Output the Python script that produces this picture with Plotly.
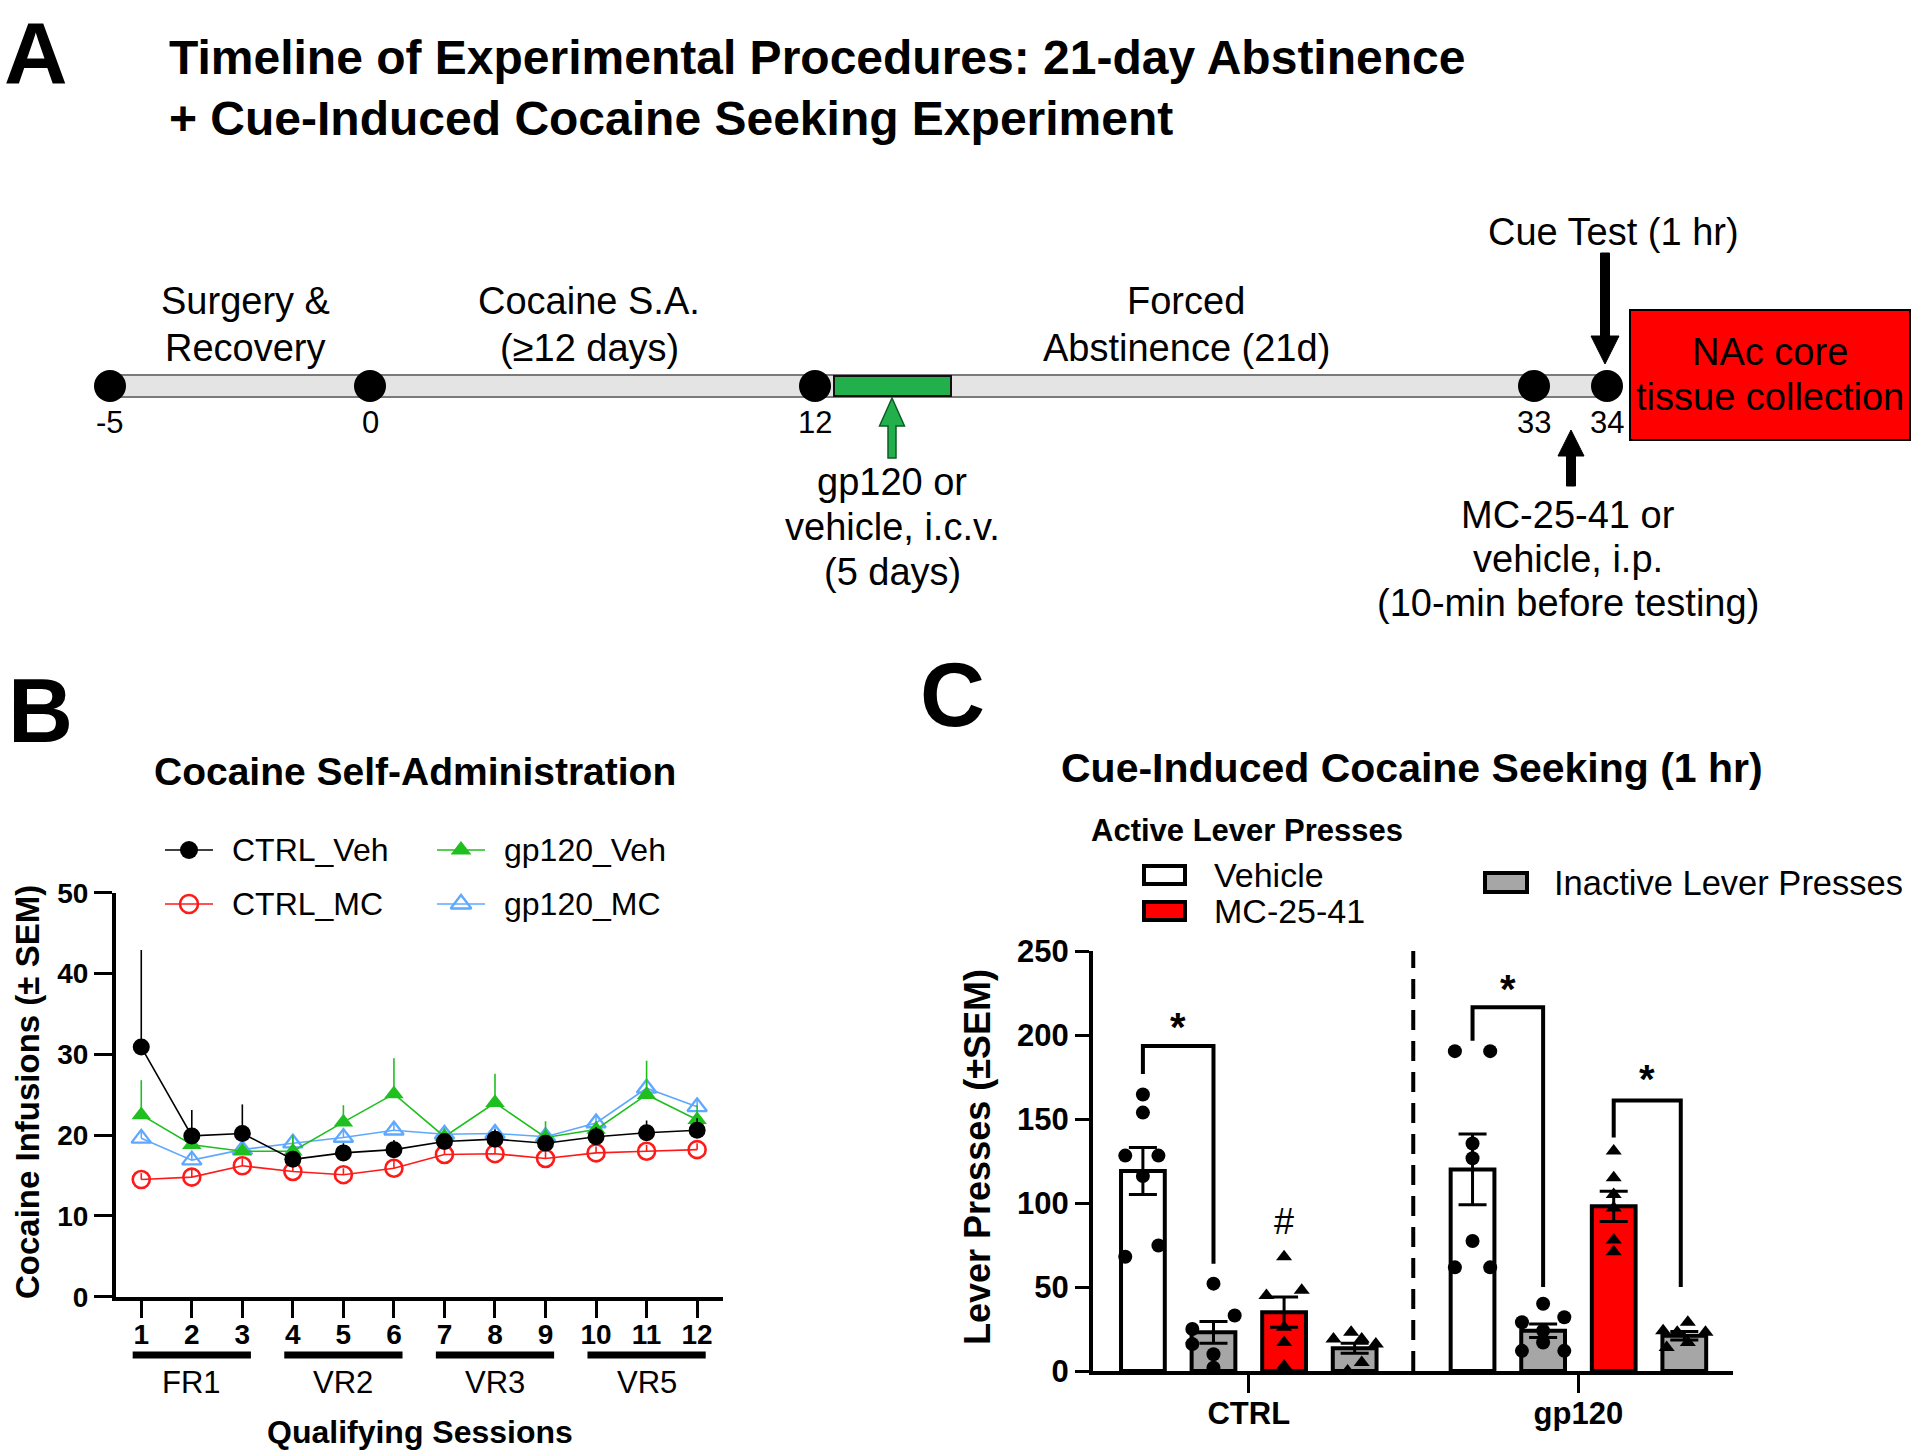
import plotly.graph_objects as go

W, H = 1914, 1454
FONT = "Liberation Sans, Arial, Helvetica, sans-serif"

# ---------------- DATA ----------------
# Panel A (timeline)
timeline_days = ["-5", "0", "12", "33", "34"]
phase_line1 = ["Surgery &", "Cocaine S.A.", "Forced"]
phase_line2 = ["Recovery", "(≥12 days)", "Abstinence (21d)"]
icv_text = ["gp120 or", "vehicle, i.c.v.", "(5 days)"]
ip_text = ["MC-25-41 or", "vehicle, i.p.", "(10-min before testing)"]
cue_text = "Cue Test (1 hr)"
box_text = ["NAc core", "tissue collection"]

# Panel B (self-administration)
sessions = [1, 2, 3, 4, 5, 6, 7, 8, 9, 10, 11, 12]
schedules = ["FR1", "VR2", "VR3", "VR5"]
ctrl_veh = [30.9, 19.9, 20.2, 17.0, 17.8, 18.2, 19.2, 19.5, 19.0, 19.8, 20.3, 20.6]
ctrl_veh_sem = [12.0, 3.2, 3.6, 1.0, 1.2, 1.2, 1.0, 1.2, 1.0, 1.2, 1.5, 1.5]
ctrl_mc = [14.5, 14.8, 16.2, 15.5, 15.1, 15.9, 17.6, 17.7, 17.1, 17.8, 18.0, 18.2]
ctrl_mc_sem = [0.8, 0.9, 0.9, 0.8, 0.8, 0.9, 0.8, 0.8, 0.8, 0.8, 0.8, 0.8]
gp_veh = [22.5, 18.8, 18.0, 18.0, 21.6, 25.1, 19.8, 24.0, 19.7, 20.7, 25.0, 21.9]
gp_veh_sem = [4.3, 1.5, 1.0, 2.0, 2.1, 4.4, 1.0, 3.6, 2.0, 1.0, 4.2, 1.8]
gp_mc = [19.6, 16.9, 18.2, 19.0, 19.7, 20.6, 20.1, 20.2, 19.8, 21.5, 25.8, 23.5]
gp_mc_sem = [1.0, 1.0, 1.0, 1.0, 1.0, 1.0, 1.0, 1.0, 1.0, 1.0, 1.0, 1.0]

# Panel C (cue-induced seeking)
groups_c = ["CTRL", "gp120"]
bar_means = [119, 23, 35, 13.5, 120, 24, 98, 21]
bar_sems = [14, 6.5, 9, 3, 21, 4, 9, 2.5]
pts_ctrl_veh = [164.6, 153.8, 128.2, 128.2, 116.1, 74.7, 68.0]
pts_ctrl_inact1 = [52, 33, 25, 16, 10, 2]
pts_ctrl_mc = [68, 48, 45, 26, 17, 3]
pts_ctrl_inact2 = [23, 19, 19, 16, 5, 0]
pts_gp_veh = [190.4, 190.4, 135.4, 126.6, 77.4, 61.7, 61.7]
pts_gp_inact1 = [40, 32, 29, 24, 17, 12, 12]
pts_gp_mc = [131, 115, 105, 97, 78, 71]
pts_gp_inact2 = [29, 24, 23, 23, 17, 14]

# ---------------- LAYOUT HELPERS ----------------
def py(y):
    return 1 - y / H

def pxp(x):
    return x / W

fig = go.Figure()
shapes = []
ann = []

def text(x, y, s, size, bold=False, xanchor="center", angle=0, color="black", yanchor="middle"):
    ann.append(dict(x=x, y=y, xref="x3", yref="y3", text=(f"<b>{s}</b>" if bold else s),
                    showarrow=False, xanchor=xanchor, yanchor=yanchor, textangle=angle,
                    font=dict(family=FONT, size=size, color=color)))

# ---------------- PANEL A ----------------
tl_x = [110, 370, 815, 1534, 1607]
tl_y = 386
shapes.append(dict(type="rect", xref="x3", yref="y3", x0=tl_x[0], x1=tl_x[-1], y0=375, y1=397,
                   fillcolor="#e4e4e4", line=dict(color="#7a7a7a", width=2), layer="below"))
shapes.append(dict(type="rect", xref="x3", yref="y3", x0=834, x1=951, y0=376, y1=396,
                   fillcolor="#22b04c", line=dict(color="#111111", width=2), layer="below"))
fig.add_trace(go.Scatter(x=tl_x, y=[tl_y] * len(tl_x), xaxis="x3", yaxis="y3", mode="markers",
                         marker=dict(color="black", size=32), showlegend=False, hoverinfo="skip"))
for xx, d in zip(tl_x, timeline_days):
    text(xx, 422, d, 31)

phase_x = [245, 589, 1186]
for xx, a, b in zip(phase_x, phase_line1, phase_line2):
    text(xx, 301, a, 38)
    text(xx, 348, b, 38)

def arrow(x, y_tail, y_tip, shaft_w, head_w, head_h, fill, lc, lw=1):
    d = 1 if y_tip > y_tail else -1
    yb = y_tip - d * head_h
    path = (f"M {x - shaft_w / 2},{y_tail} L {x - shaft_w / 2},{yb} L {x - head_w / 2},{yb} "
            f"L {x},{y_tip} L {x + head_w / 2},{yb} L {x + shaft_w / 2},{yb} L {x + shaft_w / 2},{y_tail} Z")
    shapes.append(dict(type="path", xref="x3", yref="y3", path=path, fillcolor=fill,
                       line=dict(color=lc, width=lw)))

arrow(1605, 253, 364, 9, 28, 28, "black", "black")
arrow(892, 458, 398, 8, 25, 28, "#22b04c", "#0d5c22", 1.5)
arrow(1571, 486, 430, 9, 26, 26, "black", "black")

text(1613, 232, cue_text, 38)
for i, s in enumerate(icv_text):
    text(892, 482 + i * 45, s, 38)
for i, s in enumerate(ip_text):
    text(1568, 515 + i * 44, s, 38)

shapes.append(dict(type="rect", xref="x3", yref="y3", x0=1630, x1=1910, y0=310, y1=440,
                   fillcolor="#ff0000", line=dict(color="black", width=2)))
text(1770, 352, box_text[0], 38)
text(1770, 397, box_text[1], 38)

text(2, 1, "A", 88, bold=True, xanchor="left", yanchor="top")
text(167, 57, "Timeline of Experimental Procedures: 21-day Abstinence", 48, bold=True, xanchor="left")
text(167, 118, "+ Cue-Induced Cocaine Seeking Experiment", 48, bold=True, xanchor="left")

# ---------------- PANEL B ----------------
series_b = [
    ("CTRL_Veh", ctrl_veh, ctrl_veh_sem, "black", dict(symbol="circle", color="black", size=17)),
    ("CTRL_MC", ctrl_mc, ctrl_mc_sem, "#ff1a1a",
     dict(symbol="circle-open", color="#ff1a1a", size=17, line=dict(width=2.6, color="#ff1a1a"))),
    ("gp120_Veh", gp_veh, gp_veh_sem, "#1fbf1f", dict(symbol="triangle-up", color="#1fbf1f", size=17)),
    ("gp120_MC", gp_mc, gp_mc_sem, "#5fa8ff",
     dict(symbol="triangle-up-open", color="#5fa8ff", size=17, line=dict(width=2.3, color="#5fa8ff"))),
]
draw_order = [1, 3, 2, 0]
for k in draw_order:
    name, vals, sem, col, mk = series_b[k]
    fig.add_trace(go.Scatter(x=sessions, y=vals, mode="lines+markers", name=name,
                             line=dict(color=col, width=1.6), marker=mk,
                             error_y=dict(type="data", array=sem, arrayminus=[0] * len(sem),
                                          symmetric=False, color=col, thickness=1.6, width=0),
                             xaxis="x", yaxis="y", showlegend=False))

# legend for B (manual, 2x2)
leg_pos = [(189, 850), (189, 904), (461, 850), (461, 904)]
for (name, vals, sem, col, mk), (lx, ly) in zip(series_b, leg_pos):
    fig.add_trace(go.Scatter(x=[lx - 24, lx + 24], y=[ly, ly], xaxis="x3", yaxis="y3", mode="lines",
                             line=dict(color=col, width=1.6), showlegend=False, hoverinfo="skip"))
    mk2 = dict(mk)
    mk2["size"] = 18
    fig.add_trace(go.Scatter(x=[lx], y=[ly], xaxis="x3", yaxis="y3", mode="markers", marker=mk2,
                             showlegend=False, hoverinfo="skip"))
    text(lx + 41, ly, name, 32, xanchor="left")

# schedule group bars
for i, s in enumerate(schedules):
    a, b = sessions[3 * i], sessions[3 * i + 2]
    shapes.append(dict(type="line", xref="x", yref="paper", x0=a - 0.17, x1=b + 0.17,
                       y0=py(1355), y1=py(1355), line=dict(color="black", width=7)))
    ann.append(dict(x=sessions[3 * i + 1], y=py(1382), xref="x", yref="paper", text=s, showarrow=False,
                    yanchor="middle", font=dict(family=FONT, size=31, color="black")))

text(6, 711, "B", 90, bold=True, xanchor="left")
text(415, 771, "Cocaine Self-Administration", 39, bold=True)
text(420, 1432, "Qualifying Sessions", 32, bold=True)
text(27, 1092, "Cocaine Infusions (± SEM)", 33, bold=True, angle=-90)

# ---------------- PANEL C ----------------
bar_pos = [0, 1, 2, 3, 4.67, 5.67, 6.67, 7.67]
bar_cols = ["white", "#a6a6a6", "#ff0000", "#a6a6a6", "white", "#a6a6a6", "#ff0000", "#a6a6a6"]
fig.add_trace(go.Bar(x=bar_pos, y=bar_means, width=0.62, marker=dict(color=bar_cols,
                     line=dict(color="black", width=4)),
                     error_y=dict(type="data", array=bar_sems, color="black", thickness=3, width=14),
                     xaxis="x2", yaxis="y2", showlegend=False))

pts = [pts_ctrl_veh, pts_ctrl_inact1, pts_ctrl_mc, pts_ctrl_inact2,
       pts_gp_veh, pts_gp_inact1, pts_gp_mc, pts_gp_inact2]
jit = [[0, 0, -0.25, 0.22, 0, 0.22, -0.25],
       [0, 0.3, -0.3, -0.3, 0, 0],
       [0, 0.25, -0.25, 0, 0, 0],
       [-0.05, -0.3, 0.1, 0.3, 0.1, -0.1],
       [-0.25, 0.25, 0, 0, 0, -0.25, 0.25],
       [0, 0.3, -0.3, 0, 0, -0.3, 0.3],
       [0, 0, 0, 0, 0, 0],
       [0.05, -0.3, -0.1, 0.3, 0.05, -0.25]]
symbols = ["circle", "circle", "triangle-up", "triangle-up", "circle", "circle", "triangle-up", "triangle-up"]
for p, vals, j, sym in zip(bar_pos, pts, jit, symbols):
    fig.add_trace(go.Scatter(x=[p + o for o in j], y=vals, mode="markers", xaxis="x2", yaxis="y2",
                             marker=dict(symbol=sym, color="black", size=14), showlegend=False))

# dashed separator
shapes.append(dict(type="line", xref="x2", yref="y2", x0=3.83, x1=3.83, y0=0, y1=250,
                   line=dict(color="black", width=4, dash="20px,11px")))

# significance brackets
brackets = [(bar_pos[0], bar_pos[1], 193.5, 176.8, 63.8, 210),
            (bar_pos[4], bar_pos[5], 216.5, 196.6, 50, 233),
            (bar_pos[6], bar_pos[7] - 0.05, 161, 139, 50, 179)]
for xl, xr, top, lb, rb, sy in brackets:
    shapes.append(dict(type="path", xref="x2", yref="y2",
                       path=f"M {xl},{lb} L {xl},{top} L {xr},{top} L {xr},{rb}",
                       line=dict(color="black", width=4)))
    ann.append(dict(x=(xl + xr) / 2, y=sy, xref="x2", yref="y2", text="<b>*</b>", showarrow=False,
                    yanchor="middle", yshift=-9, font=dict(family=FONT, size=40, color="black")))
ann.append(dict(x=bar_pos[2], y=89, xref="x2", yref="y2", text="#", showarrow=False,
                yanchor="middle", font=dict(family=FONT, size=36, color="black")))

# legend C
for (x0, x1, y0, y1, col) in [(1144, 1185, 866, 884, "white"), (1144, 1185, 902, 920, "#ff0000"),
                              (1485, 1527, 873, 892, "#a6a6a6")]:
    shapes.append(dict(type="rect", xref="x3", yref="y3", x0=x0, x1=x1, y0=y0, y1=y1,
                       fillcolor=col, line=dict(color="black", width=4)))
text(1212, 875, "Vehicle", 34, xanchor="left")
text(1212, 911, "MC-25-41", 34, xanchor="left")
text(1552, 883, "Inactive Lever Presses", 34.5, xanchor="left")
text(1089, 830, "Active Lever Presses", 31, bold=True, xanchor="left")

text(918, 695, "C", 90, bold=True, xanchor="left")
text(1412, 768, "Cue-Induced Cocaine Seeking (1 hr)", 41, bold=True)
text(977, 1157, "Lever Presses (±SEM)", 36, bold=True, angle=-90)

# ---------------- AXES ----------------
ax_common = dict(showgrid=False, zeroline=False, showline=True, linecolor="black", linewidth=4,
                 ticks="outside", tickcolor="black", tickwidth=3, automargin=False)
fig.update_layout(
    template="none",
    width=W, height=H, autosize=False,
    margin=dict(l=0, r=0, t=0, b=0, pad=0, autoexpand=False),
    paper_bgcolor="white", plot_bgcolor="rgba(0,0,0,0)",
    showlegend=False,
    xaxis=dict(domain=[pxp(116), pxp(723.4)], range=[0.5, 12.52], tickvals=sessions, ticklen=17,
               ticklabelstandoff=-7,
               tickfont=dict(family=FONT, size=28, color="black", weight="bold"), anchor="y", **ax_common),
    yaxis=dict(domain=[py(1296.7), py(892.7)], range=[0, 50], tickvals=[0, 10, 20, 30, 40, 50], ticklen=18,
               tickfont=dict(family=FONT, size=28, color="black", weight="bold"), anchor="x", **ax_common),
    xaxis2=dict(domain=[pxp(1093), pxp(1733)], range=[-0.707, 8.36], tickvals=[1.5, 6.17],
                ticktext=groups_c, ticklen=18, ticklabelstandoff=-6,
                tickfont=dict(family=FONT, size=31, color="black", weight="bold"), anchor="y2", **ax_common),
    yaxis2=dict(domain=[py(1371), py(951)], range=[0, 250], tickvals=[0, 50, 100, 150, 200, 250], ticklen=14,
                tickfont=dict(family=FONT, size=31, color="black", weight="bold"), anchor="x2", **ax_common),
    xaxis3=dict(domain=[0, 1], range=[0, W], visible=False, anchor="y3", fixedrange=True, automargin=False),
    yaxis3=dict(domain=[0, 1], range=[H, 0], visible=False, anchor="x3", fixedrange=True, automargin=False),
    shapes=shapes,
    annotations=ann,
)

fig.write_html("out.html", config={"displayModeBar": False},
               post_script="document.body.style.margin='0px';document.body.style.overflow='hidden';")
